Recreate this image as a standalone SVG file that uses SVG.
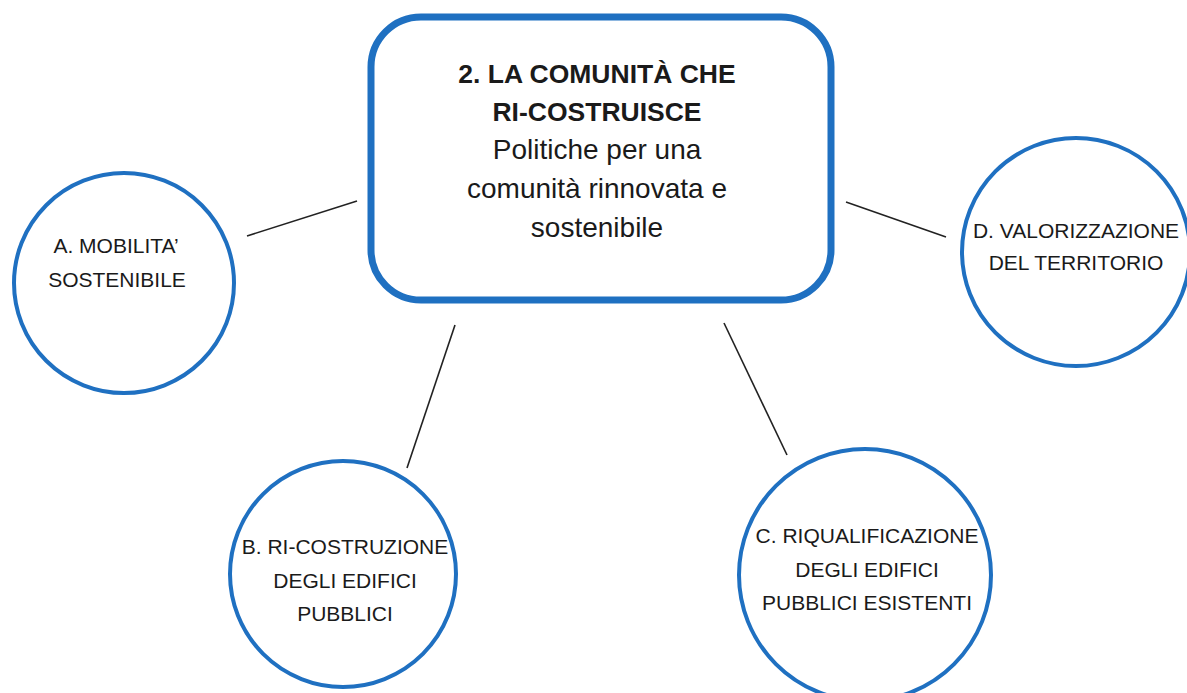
<svg xmlns="http://www.w3.org/2000/svg" width="1187" height="693" viewBox="0 0 1187 693">
<style>
.bg{fill:#ffffff}
.hub{fill:#ffffff;stroke:#1F70C1;stroke-width:7}
.node{fill:#ffffff;stroke:#1F70C1;stroke-width:4}
.conn{stroke:#222222;stroke-width:1.6;fill:none}
text{font-family:"Liberation Sans",Arial,sans-serif;fill:#1a1a1a;text-anchor:middle}
.title{font-weight:bold;font-size:26.5px}
.sub{font-size:28px}
.lbl{font-size:21px}
</style>
<rect class="bg" x="0" y="0" width="1187" height="693"/>
<g id="connectors">
<line class="conn" x1="247" y1="236" x2="357" y2="201"/>
<line class="conn" x1="846" y1="202" x2="946" y2="237"/>
<line class="conn" x1="455" y1="325" x2="407" y2="468"/>
<line class="conn" x1="724" y1="323" x2="787" y2="455"/>
</g>
<g id="hub">
<rect class="hub" x="371" y="17" width="460" height="283" rx="50" ry="50"/>
<text class="title" x="597" y="83">2. LA COMUNITÀ CHE</text>
<text class="title" x="597" y="121">RI-COSTRUISCE</text>
<text class="sub" x="597" y="159">Politiche per una</text>
<text class="sub" x="597" y="198">comunità rinnovata e</text>
<text class="sub" x="597" y="237">sostenibile</text>
</g>
<g id="nodeA">
<circle class="node" cx="124" cy="283" r="110"/>
<text class="lbl" x="116" y="253">A. MOBILITA’</text>
<text class="lbl" x="117" y="287">SOSTENIBILE</text>
</g>
<g id="nodeD">
<circle class="node" cx="1076" cy="252" r="114"/>
<text class="lbl" x="1076" y="238">D. VALORIZZAZIONE</text>
<text class="lbl" x="1076" y="270">DEL TERRITORIO</text>
</g>
<g id="nodeB">
<circle class="node" cx="343" cy="574" r="113"/>
<text class="lbl" x="345" y="554">B. RI-COSTRUZIONE</text>
<text class="lbl" x="345" y="588">DEGLI EDIFICI</text>
<text class="lbl" x="345" y="621">PUBBLICI</text>
</g>
<g id="nodeC">
<circle class="node" cx="865" cy="575" r="126"/>
<text class="lbl" x="867" y="543">C. RIQUALIFICAZIONE</text>
<text class="lbl" x="867" y="577">DEGLI EDIFICI</text>
<text class="lbl" x="867" y="610">PUBBLICI ESISTENTI</text>
</g>
</svg>
